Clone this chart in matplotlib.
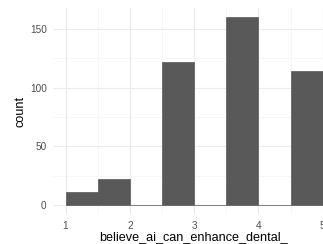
import numpy as np
import matplotlib
matplotlib.use("Agg")
import matplotlib.pyplot as plt
from matplotlib.ticker import MultipleLocator

# histogram of believe_ai_can_enhance_dental_ (binwidth 0.5)
bin_edges = [1.0, 1.5, 2.0, 2.5, 3.0, 3.5, 4.0, 4.5, 5.0]
counts = [11, 22, 0, 122, 0, 160, 0, 114]
x_ticks = [1, 2, 3, 4, 5]
y_ticks = [0, 50, 100, 150]
x_title = "believe_ai_can_enhance_dental_"
y_title = "count"

plt.rcParams['font.family'] = ['Liberation Sans', 'DejaVu Sans']

W, H = 323, 244
fig = plt.figure(figsize=(W / 100, H / 100), dpi=100)
# panel is cropped on the right, like the reference
left_px, top_px, bottom_px = 52.7, 8.0, 214.4
ax = fig.add_axes([left_px / W, 1 - bottom_px / H, 1 - left_px / W, (bottom_px - top_px) / H])

edges = np.array(bin_edges)
ax.bar(edges[:-1], counts, width=np.diff(edges), align='edge',
       color='#595959', edgecolor='#595959', linewidth=0.5, zorder=3)

px_per_unit = 64.3
ax.set_xlim(0.8, 0.8 + (W - left_px) / px_per_unit)
ax.set_ylim(-8, 168)
ax.set_xticks(x_ticks)
ax.set_yticks(y_ticks)
ax.xaxis.set_minor_locator(MultipleLocator(0.5))
ax.yaxis.set_minor_locator(MultipleLocator(25))

ax.grid(True, which='major', color='#EBEBEB', linewidth=0.8, zorder=0)
ax.grid(True, which='minor', color='#F4F4F4', linewidth=0.5, zorder=0)
ax.set_axisbelow(True)
for s in ax.spines.values():
    s.set_visible(False)
ax.tick_params(which='both', length=0, labelsize=7.2, labelcolor='#4D4D4D')
ax.tick_params(axis='x', pad=5)
ax.tick_params(axis='y', pad=4.3)

fig.text(193 / W, 1 - 240.5 / H, x_title, ha='center', va='baseline', fontsize=9.1, color='black')
fig.text(21 / W, 1 - 111 / H, y_title, ha='center', va='center', rotation=90, fontsize=9.1, color='black')

fig.savefig("out.png", dpi=100)
